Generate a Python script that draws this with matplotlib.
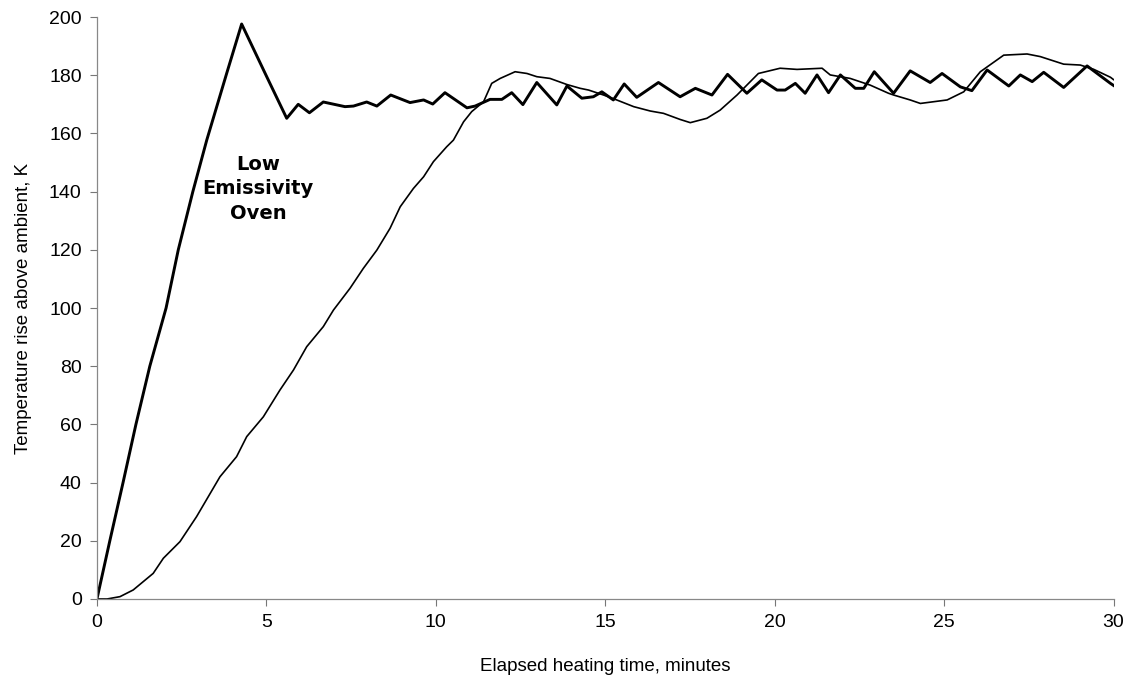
import numpy as np
import matplotlib
matplotlib.use("Agg")
import matplotlib.pyplot as plt

# low emissivity oven (thick curve)
low_t = [0, 0.38, 0.77, 1.15, 1.56, 2.04, 2.4, 2.83, 3.24, 3.83, 4.27, 5.01, 5.6,
         5.94, 6.27, 6.68, 7.32, 7.57, 7.96, 8.26, 8.67, 9.24, 9.64, 9.91, 10.27,
         10.92, 11.16, 11.6, 11.95, 12.24, 12.57, 12.98, 13.57, 13.87, 14.31, 14.65,
         14.9, 15.24, 15.56, 15.93, 16.57, 17.21, 17.66, 18.15, 18.61, 19.18, 19.62,
         20.07, 20.31, 20.61, 20.9, 21.25, 21.59, 21.94, 22.38, 22.63, 22.94, 23.51,
         24.0, 24.59, 24.94, 25.48, 25.82, 26.27, 26.91, 27.25, 27.6, 27.94, 28.53,
         29.22, 29.91, 30.0]
low_k = [0, 20, 40, 60, 80, 100, 120, 140, 157.7, 180.7, 197.6, 179.5, 165.2,
         170.0, 167.1, 170.8, 169.2, 169.4, 170.8, 169.4, 173.2, 170.6, 171.5, 170.1, 174.0,
         168.8, 169.4, 171.7, 171.7, 174.0, 169.9, 177.5, 169.8, 176.3, 172.1, 172.6,
         174.3, 171.5, 177.0, 172.4, 177.5, 172.6, 175.5, 173.2, 180.3, 173.8, 178.4,
         174.9, 174.9, 177.2, 173.8, 180.1, 174.0, 180.1, 175.5, 175.5, 181.2, 173.8,
         181.5, 177.5, 180.6, 176.0, 174.7, 181.8, 176.3, 180.1, 177.8, 181.0, 175.8,
         183.2, 177.2, 176.5]

# conventional oven (thin curve)
std_t = [0, 0.3, 0.68, 1.07, 1.66, 1.96, 2.45, 2.94, 3.63, 4.12, 4.42, 4.91, 5.4,
         5.8, 6.19, 6.68, 6.98, 7.47, 7.86, 8.26, 8.65, 8.95, 9.34, 9.64, 9.93,
         10.32, 10.52, 10.82, 11.06, 11.41, 11.65, 11.9, 12.34, 12.69, 12.98, 13.37,
         13.87, 14.26, 14.51, 14.95, 15.34, 15.84, 16.33, 16.72, 17.21, 17.51, 18.0,
         18.39, 18.89, 19.52, 20.16, 20.66, 21.4, 21.64, 22.23, 22.82, 23.36, 23.51,
         24.0, 24.3, 25.09, 25.58, 26.07, 26.76, 27.45, 27.84, 28.53, 29.02, 29.42,
         29.91, 30.0]
std_k = [0, 0, 0.8, 3.1, 8.8, 14.0, 19.7, 28.3, 42.0, 48.9, 55.8, 62.6, 71.8,
         78.7, 86.7, 93.6, 99.3, 106.8, 113.6, 119.9, 127.4, 134.8, 141.1, 145.1, 150.3,
         155.4, 157.7, 164.0, 167.5, 170.9, 177.2, 178.9, 181.2, 180.6, 179.5, 178.9,
         176.8, 175.5, 174.9, 173.2, 171.5, 169.2, 167.7, 166.9, 164.8, 163.7, 165.2,
         168.0, 173.2, 180.6, 182.4, 182.0, 182.4, 180.1, 178.9, 176.6, 173.8, 173.2,
         171.5, 170.3, 171.5, 174.3, 181.2, 186.9, 187.3, 186.4, 183.8, 183.5, 182.0,
         179.3, 178.5]

x_ticks = [0, 5, 10, 15, 20, 25, 30]
y_ticks = [0, 20, 40, 60, 80, 100, 120, 140, 160, 180, 200]

plt.rcParams['font.family'] = ['Liberation Sans', 'DejaVu Sans']

fig = plt.figure(figsize=(11.3, 6.84), dpi=100)
ax = fig.add_axes([0.0858, 0.1243, 0.8996, 0.8508])

ax.plot(std_t, std_k, color='black', lw=1.2, solid_joinstyle='round')
ax.plot(low_t, low_k, color='black', lw=2.1, solid_joinstyle='round')

ax.text(4.75, 141, "Low\nEmissivity\nOven", ha='center', va='center',
        fontsize=14, fontweight='bold', family='DejaVu Sans', linespacing=1.38)

ax.set_xlim(0, 30)
ax.set_ylim(0, 200)
ax.set_xticks(x_ticks)
ax.set_yticks(y_ticks)
ax.tick_params(direction='out', length=5, width=0.8, color='#777777',
               labelsize=14, pad=6)
for s in ['top', 'right']:
    ax.spines[s].set_visible(False)
for s in ['left', 'bottom']:
    ax.spines[s].set_color('#888888')
    ax.spines[s].set_linewidth(0.9)

ax.set_xlabel("Elapsed heating time, minutes", fontsize=13.5, labelpad=19)
ax.set_ylabel("Temperature rise above ambient, K", fontsize=13.5, labelpad=12)

fig.savefig("out.png", dpi=100)
